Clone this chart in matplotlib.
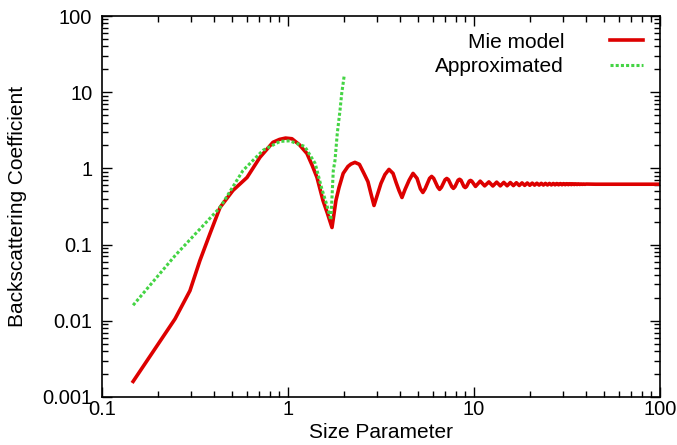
import numpy as np
import matplotlib
matplotlib.use('Agg')
import matplotlib.pyplot as plt
from matplotlib.ticker import FixedLocator, FixedFormatter, LogLocator, NullFormatter

plt.rcParams['font.family'] = ['Liberation Sans', 'DejaVu Sans']

# Mie model
mie_x = [0.147, 0.247, 0.297, 0.336, 0.381, 0.431, 0.506, 0.602, 0.707, 0.83,
         0.90, 0.97, 1.05, 1.15, 1.264, 1.35, 1.432, 1.542, 1.63, 1.724,
         1.81, 1.88, 1.98, 2.10, 2.18, 2.29, 2.42, 2.56, 2.69, 2.79,
         2.90, 3.16, 3.32, 3.49, 3.67, 3.81, 3.95, 4.10, 4.26, 4.48,
         4.70, 4.94, 5.15, 5.31, 5.46, 5.77, 5.92, 6.07, 6.38, 6.53,
         6.68, 6.99, 7.14, 7.29, 7.60, 7.75, 7.90, 8.21, 8.36, 8.51,
         8.82, 8.97, 9.12, 9.43, 9.58, 9.73, 10.19, 10.80, 11.41, 12.02,
         12.63, 13.24, 13.85, 14.46, 15.07, 15.68, 16.29, 16.90, 17.51, 18.12,
         18.73, 19.34, 19.95, 20.56, 21.17, 21.78, 22.39, 23.0, 23.61, 24.22,
         24.83, 25.44, 26.05, 26.66, 27.27, 27.88, 28.49, 29.1, 29.71, 30.32,
         30.93, 31.54, 32.15, 32.76, 33.37, 33.98, 34.59, 35.2, 35.81, 36.42,
         37.03, 37.64, 38.25, 38.86, 39.47, 40.08, 45.0, 100.0]
mie_y = [0.0016, 0.0106, 0.0248, 0.0617, 0.14, 0.307, 0.514, 0.76, 1.40, 2.2,
         2.4, 2.5, 2.45, 2.05, 1.57, 1.09, 0.76, 0.379, 0.256, 0.1675,
         0.379, 0.56, 0.86, 1.06, 1.14, 1.2, 1.13, 0.86, 0.67, 0.469,
         0.326, 0.635, 0.83, 0.97, 0.86, 0.655, 0.514, 0.415, 0.53, 0.70,
         0.86, 0.74, 0.54, 0.483, 0.54, 0.74, 0.785, 0.74, 0.57, 0.53,
         0.565, 0.71, 0.738, 0.71, 0.575, 0.547, 0.575, 0.70, 0.72, 0.70,
         0.58, 0.56, 0.58, 0.68, 0.695, 0.68, 0.58, 0.68, 0.59, 0.665,
         0.588, 0.66, 0.59, 0.655, 0.592, 0.652, 0.595, 0.648, 0.597, 0.645,
         0.599, 0.643, 0.601, 0.641, 0.603, 0.639, 0.604, 0.637, 0.605, 0.636,
         0.606, 0.635, 0.607, 0.634, 0.608, 0.633, 0.609, 0.632, 0.610, 0.631,
         0.611, 0.630, 0.612, 0.629, 0.613, 0.628, 0.614, 0.627, 0.615, 0.626,
         0.616, 0.625, 0.617, 0.624, 0.618, 0.623, 0.62, 0.62]

# approximation
approx_x = [0.147, 0.247, 0.431, 0.573, 0.734, 0.906, 1.02, 1.23, 1.40, 1.52,
            1.62, 1.70, 1.752, 1.789, 1.84, 1.904, 1.944, 2.007]
approx_y = [0.016, 0.0716, 0.307, 0.94, 1.73, 2.26, 2.3, 1.94, 1.16, 0.54,
            0.326, 0.21, 0.94, 1.27, 2.86, 5.8, 9.6, 16.7]

xticks = [0.1, 1, 10, 100]
xticklabels = ['0.1', '1', '10', '100']
yticks = [0.001, 0.01, 0.1, 1, 10, 100]
yticklabels = ['0.001', '0.01', '0.1', '1', '10', '100']

fig = plt.figure(figsize=(6.77, 4.45), dpi=100)
ax = fig.add_axes([102/677, 48/445, 558/677, 381/445])

ax.plot(mie_x, mie_y, color='#dd0000', lw=2.6, solid_joinstyle='round', label='Mie model')
ax.plot(approx_x, approx_y, color='#44d444', lw=2.2, linestyle=(0, (1, 0.7)), label='Approximated')

ax.set_xscale('log')
ax.set_yscale('log')
ax.set_xlim(0.1, 100)
ax.set_ylim(0.001, 100)

ax.xaxis.set_major_locator(FixedLocator(xticks))
ax.xaxis.set_major_formatter(FixedFormatter(xticklabels))
ax.yaxis.set_major_locator(FixedLocator(yticks))
ax.yaxis.set_major_formatter(FixedFormatter(yticklabels))
ax.xaxis.set_minor_locator(LogLocator(base=10, subs=np.arange(2, 10)))
ax.yaxis.set_minor_locator(LogLocator(base=10, subs=np.arange(2, 10)))
ax.xaxis.set_minor_formatter(NullFormatter())
ax.yaxis.set_minor_formatter(NullFormatter())

ax.tick_params(which='both', direction='in', top=True, right=True, labelsize=14.5, width=1)
ax.tick_params(which='major', length=7)
ax.tick_params(which='minor', length=4)
ax.tick_params(axis='y', which='major', pad=7)
ax.tick_params(axis='x', which='major', pad=2)
for s in ax.spines.values():
    s.set_linewidth(1.2)

ax.set_xlabel('Size Parameter', fontsize=15, labelpad=3)
ax.set_ylabel('Backscattering Coefficient', fontsize=15, labelpad=11)

ax.legend(loc='upper right', frameon=False, markerfirst=False, fontsize=15,
          handlelength=1.6, labelspacing=0.25, borderaxespad=0.4, handletextpad=2.2)

fig.savefig('out.png', dpi=100)
